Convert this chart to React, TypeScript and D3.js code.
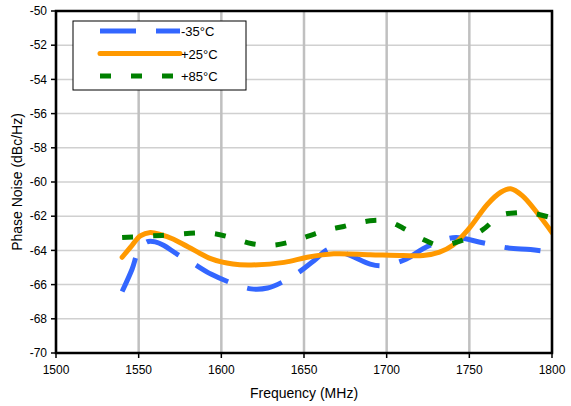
import React from "react";
import * as d3 from "d3";

const xTicks = [1500, 1550, 1600, 1650, 1700, 1750, 1800];
const yTicks = [-70, -68, -66, -64, -62, -60, -58, -56, -54, -52, -50];

const freqM35 = [1540, 1546, 1550, 1555, 1560, 1565, 1573, 1582, 1594, 1606, 1618, 1628, 1638, 1648, 1656, 1666, 1678, 1690, 1698, 1712, 1722, 1734, 1742, 1758, 1773, 1787, 1800];
const valM35 = [-66.4, -65.1, -64.0, -63.5, -63.5, -63.7, -64.2, -64.7, -65.4, -65.9, -66.25, -66.2, -65.8, -65.2, -64.6, -63.9, -64.3, -64.8, -64.9, -64.5, -63.9, -63.4, -63.25, -63.55, -63.85, -63.95, -64.1];

const freqP25 = [1540, 1546, 1551, 1557, 1564, 1570, 1580, 1594, 1607, 1618, 1638, 1652, 1668, 1690, 1710, 1722, 1732, 1740, 1750, 1761, 1769, 1775, 1782, 1791, 1800];
const valP25 = [-64.4, -63.7, -63.15, -62.95, -63.1, -63.3, -63.8, -64.5, -64.8, -64.85, -64.7, -64.4, -64.2, -64.25, -64.3, -64.3, -64.1, -63.7, -62.7, -61.3, -60.6, -60.4, -60.8, -61.8, -62.95];

const freqP85 = [1540, 1559, 1568, 1581, 1594, 1606, 1618, 1630, 1642, 1653, 1664, 1674, 1680, 1692, 1701, 1710, 1721, 1732, 1746, 1758, 1769, 1779, 1787, 1800];
const valP85 = [-63.25, -63.15, -63.1, -63.0, -63.0, -63.25, -63.6, -63.7, -63.5, -63.15, -62.8, -62.6, -62.45, -62.25, -62.3, -62.7, -63.3, -63.7, -63.4, -62.8, -61.95, -61.8, -61.8, -62.1];

const seriesNames = ["-35°C", "+25°C", "+85°C"];

const W = 571;
const H = 406;
const left = 56, right = 552, top = 11, bottom = 353;

export default function App() {
  const x = d3.scaleLinear().domain([1500, 1800]).range([left, right]);
  const y = d3.scaleLinear().domain([-70, -50]).range([bottom, top]);
  const line = d3
    .line<[number, number]>()
    .x((d) => x(d[0]))
    .y((d) => y(d[1]))
    .curve(d3.curveCatmullRom.alpha(0.5));

  const series = [
    { name: seriesNames[0], f: freqM35, v: valM35, color: "#3366FF", dash: "36 20" },
    { name: seriesNames[1], f: freqP25, v: valP25, color: "#FF9900", dash: "none" },
    { name: seriesNames[2], f: freqP85, v: valP85, color: "#008000", dash: "11 20" },
  ];

  const font = "Arial, 'Liberation Sans', sans-serif";

  return (
    <svg
      width={W}
      height={H}
      style={{ position: "absolute", left: 0, top: 0, background: "#fff" }}
      fontFamily={font}
    >
      <rect x={0} y={0} width={W} height={H} fill="#fff" />
      {/* grid */}
      {yTicks.map((t) => (
        <line key={"hy" + t} x1={left} x2={right} y1={y(t)} y2={y(t)} stroke="#d0d0d0" strokeWidth={1.5} />
      ))}
      {xTicks.map((t) => (
        <line key={"gx" + t} x1={x(t)} x2={x(t)} y1={top} y2={bottom} stroke="#c0c0c0" strokeWidth={2.5} />
      ))}
      {/* series */}
      <defs>
        <clipPath id="plotclip">
          <rect x={left} y={top} width={right - left} height={bottom - top} />
        </clipPath>
      </defs>
      <g clipPath="url(#plotclip)">
        {series.map((s) => (
          <path
            key={s.name}
            d={line(s.f.map((f, i) => [f, s.v[i]] as [number, number])) || ""}
            fill="none"
            stroke={s.color}
            strokeWidth={5}
            strokeDasharray={s.dash}
            strokeLinecap={s.dash === "none" ? "round" : "butt"}
          />
        ))}
      </g>
      {/* frame */}
      <rect x={left} y={top} width={right - left} height={bottom - top} fill="none" stroke="#000" strokeWidth={2.5} />
      {/* ticks */}
      {yTicks.map((t) => (
        <g key={"ty" + t}>
          <line x1={left - 5} x2={left} y1={y(t)} y2={y(t)} stroke="#000" strokeWidth={1.5} />
          <text x={left - 9} y={y(t)} dy="0.35em" textAnchor="end" fontSize={12} fill="#000">
            {t}
          </text>
        </g>
      ))}
      {xTicks.map((t) => (
        <g key={"tx" + t}>
          <line x1={x(t)} x2={x(t)} y1={bottom} y2={bottom + 5} stroke="#000" strokeWidth={1.5} />
          <text x={x(t)} y={bottom + 21} textAnchor="middle" fontSize={12} fill="#000">
            {t}
          </text>
        </g>
      ))}
      {/* axis titles */}
      <text x={(left + right) / 2} y={398} textAnchor="middle" fontSize={14} fill="#000">
        Frequency (MHz)
      </text>
      <text
        transform={`translate(22, ${(top + bottom) / 2}) rotate(-90)`}
        textAnchor="middle"
        fontSize={14}
        fill="#000"
      >
        Phase Noise (dBc/Hz)
      </text>
      {/* legend */}
      <rect x={73} y={21} width={173} height={69} fill="#fff" stroke="#000" strokeWidth={1} />
      {series.map((s, i) => {
        const ly = 31 + i * 22.5;
        return (
          <g key={"lg" + s.name}>
            <line
              x1={100}
              x2={180}
              y1={ly}
              y2={ly}
              stroke={s.color}
              strokeWidth={5}
              strokeDasharray={s.dash}
              strokeLinecap={s.dash === "none" ? "round" : "butt"}
            />
            <text x={181} y={ly} dy="0.4em" fontSize={13} fill="#000">
              {s.name}
            </text>
          </g>
        );
      })}
    </svg>
  );
}
